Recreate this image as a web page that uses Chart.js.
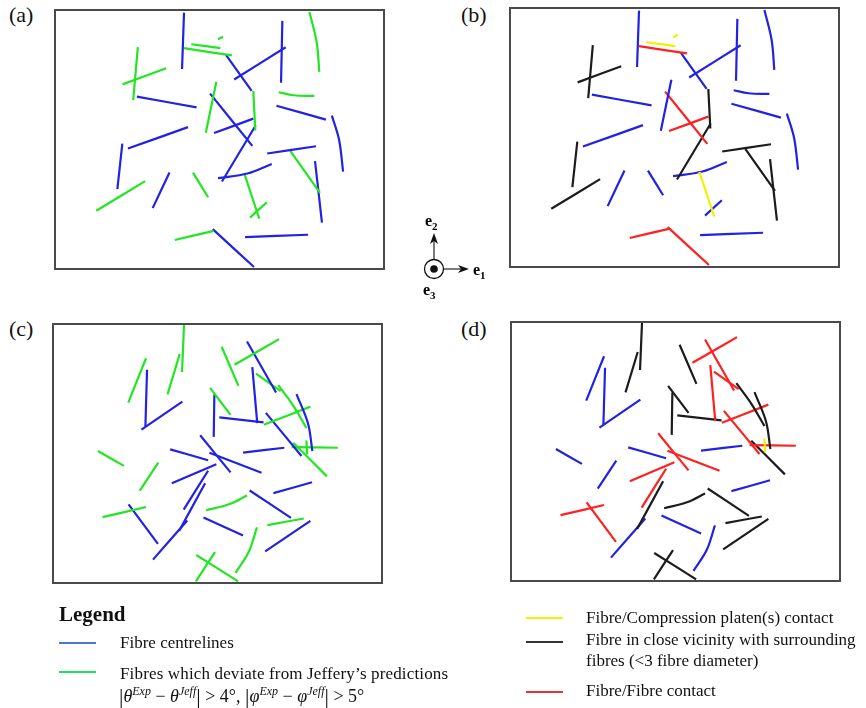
<!DOCTYPE html>
<html>
<head>
<meta charset="utf-8">
<script src="https://cdn.jsdelivr.net/npm/chart.js@4.4.1/dist/chart.umd.min.js"></script>
<style>
  body { margin: 0; background: #fff; }
  #fig { position: relative; width: 866px; height: 708px; font-family: "Liberation Serif", "Times New Roman", serif; color: #111; }
  .panel { position: absolute; width: 331px; height: 261px; border: 2px solid #4a4a4a; box-sizing: border-box; }
  .panel canvas { display: block; }
  .lbl { position: absolute; font-size: 22px; }
  .txt { position: absolute; font-size: 17px; white-space: nowrap; }
  .key { position: absolute; width: 37px; height: 0; border-top: 2.5px solid; }
  .m { font-size: 18px; top: 682px; }
  .m i { font-style: italic; }
  .m sup { font-size: 12px; font-style: italic; }
  .m .bar { font-size: 22px; position: relative; top: 1px; }
</style>
</head>
<body>
<div id="fig">
  <div class="lbl" style="left:9px;top:2px">(a)</div>
  <div class="lbl" style="left:461px;top:2px">(b)</div>
  <div class="lbl" style="left:9px;top:316px">(c)</div>
  <div class="lbl" style="left:461px;top:316px">(d)</div>

  <div class="panel" style="left:54px;top:9px"><canvas id="pa" width="327" height="257"></canvas></div>
  <div class="panel" style="left:509px;top:7px"><canvas id="pb" width="327" height="257"></canvas></div>
  <div class="panel" style="left:52px;top:323px"><canvas id="pc" width="327" height="257"></canvas></div>
  <div class="panel" style="left:510px;top:321px"><canvas id="pd" width="327" height="257"></canvas></div>

  <svg width="866" height="708" style="position:absolute;left:0;top:0;pointer-events:none" font-family="Liberation Serif, serif">
    <circle cx="434" cy="269" r="9.5" fill="#fff" stroke="#111" stroke-width="1.3"/>
    <circle cx="434" cy="269" r="3.8" fill="#111"/>
    <line x1="434" y1="259" x2="434" y2="240" stroke="#333" stroke-width="1.3"/>
    <polygon points="434,233 430,244 434,241 438,244" fill="#111"/>
    <line x1="444" y1="269" x2="462" y2="269" stroke="#333" stroke-width="1.3"/>
    <polygon points="469,269 458,265 461,269 458,273" fill="#111"/>
    <text x="425" y="226" font-size="16" font-weight="bold">e<tspan font-size="11" dy="4">2</tspan></text>
    <text x="473" y="275" font-size="16" font-weight="bold">e<tspan font-size="11" dy="4">1</tspan></text>
    <text x="423" y="295" font-size="16" font-weight="bold">e<tspan font-size="11" dy="4">3</tspan></text>
  </svg>

  <div class="txt" style="left:59px;top:602px;font-size:21px;font-weight:bold">Legend</div>
  <div class="key" style="left:59px;top:642px;border-color:#4a78d0"></div>
  <div class="txt" style="left:120px;top:633px">Fibre centrelines</div>
  <div class="key" style="left:59px;top:671px;border-color:#1ee060"></div>
  <div class="txt" style="left:120px;top:664px;letter-spacing:0.15px">Fibres which deviate from Jeffery’s predictions</div>
  <div class="txt m" style="left:119px"><span class="bar">|</span><i>θ</i><sup>Exp</sup> − <i>θ</i><sup>Jeff</sup><span class="bar">|</span> &gt; 4°, <span class="bar">|</span><i>φ</i><sup>Exp</sup> − <i>φ</i><sup>Jeff</sup><span class="bar">|</span> &gt; 5°</div>

  <div class="key" style="left:526px;top:617px;border-color:#f5f000"></div>
  <div class="txt" style="left:586px;top:608px">Fibre/Compression platen(s) contact</div>
  <div class="key" style="left:526px;top:641px;border-color:#333"></div>
  <div class="txt" style="left:586px;top:630px">Fibre in close vicinity with surrounding</div>
  <div class="txt" style="left:586px;top:651px">fibres (&lt;3 fibre diameter)</div>
  <div class="key" style="left:526px;top:691px;border-color:#f03030"></div>
  <div class="txt" style="left:586px;top:681px">Fibre/Fibre contact</div>
</div>

<script>
// fibre centrelines, box-relative (x right, y down), frame 0..991 x 0..781
const fibresTop = [
  [[388,5],[382,176]],
  [[410,101],[498,113]],
  [[491,86],[506,78]],
  [[388,113],[533,135]],
  [[515,133],[593,243]],
  [[540,208],[696,110]],
  [[686,30],[682,218]],
  [[768,3],[790,95],[798,185]],
  [[248,110],[234,271]],
  [[202,223],[334,174]],
  [[245,260],[426,293]],
  [[486,215],[454,370]],
  [[467,251],[595,410]],
  [[598,243],[604,363]],
  [[479,371],[598,327]],
  [[605,348],[503,518]],
  [[675,247],[720,256],[783,258]],
  [[668,288],[818,330]],
  [[836,318],[858,392],[870,488]],
  [[218,418],[400,353]],
  [[201,403],[186,541]],
  [[122,607],[270,517]],
  [[344,491],[293,599]],
  [[415,491],[461,566]],
  [[491,508],[580,494],[654,465]],
  [[640,433],[788,411]],
  [[710,425],[800,553]],
  [[785,456],[806,643]],
  [[571,495],[616,631]],
  [[588,628],[639,581]],
  [[360,696],[478,668]],
  [[475,663],[600,778]],
  [[573,687],[764,680]]
];

const fibresBottom = [
  [[394,0],[388,143]],
  [[381,88],[344,211]],
  [[279,101],[225,236]],
  [[282,136],[277,308]],
  [[265,318],[389,233]],
  [[508,66],[559,185]],
  [[547,121],[682,43]],
  [[585,50],[673,205]],
  [[601,128],[616,298]],
  [[612,148],[687,201]],
  [[680,183],[725,245],[765,313]],
  [[735,210],[770,300],[783,383]],
  [[473,191],[535,273]],
  [[486,211],[484,340]],
  [[501,281],[635,296]],
  [[636,303],[777,248]],
  [[642,267],[750,398]],
  [[720,371],[860,373]],
  [[765,351],[767,393]],
  [[725,358],[827,460]],
  [[573,388],[698,373]],
  [[133,383],[212,428]],
  [[352,378],[467,411]],
  [[443,335],[535,448]],
  [[471,388],[629,449]],
  [[357,481],[492,423]],
  [[316,418],[260,503]],
  [[467,443],[393,561]],
  [[458,481],[379,626]],
  [[404,594],[300,713]],
  [[593,503],[718,586]],
  [[461,563],[530,545],[585,518]],
  [[665,511],[782,478]],
  [[147,584],[279,553]],
  [[226,545],[315,665]],
  [[453,585],[573,640]],
  [[647,608],[757,588]],
  [[640,688],[777,595]],
  [[615,615],[590,690],[550,753]],
  [[431,699],[558,779]],
  [[488,690],[430,779]]
];

// c = centreline, j = deviates from Jeffery, p = platen contact, v = close vicinity, f = fibre/fibre contact
const kindA = ['c','j','j','j','c','c','c','j','j','j','c','j','c','j','c','c','j','c','c','c','c','j','c','j','c','c','j','c','j','j','j','c','c'];
const kindB = ['c','p','p','f','c','c','c','c','v','v','c','c','f','v','f','v','c','c','c','c','v','v','c','c','c','v','v','v','p','c','f','f','c'];
const kindC = ['j','j','j','c','c','j','j','c','c','j','j','c','j','c','c','j','c','j','j','j','c','j','c','c','c','c','j','c','c','c','c','j','c','j','c','c','j','c','j','j','j'];
const kindD = ['v','v','c','c','c','v','f','f','f','f','v','v','v','v','v','f','f','f','p','v','c','c','c','f','f','f','c','f','v','c','v','v','c','f','f','c','v','v','c','v','v'];

const colours = { c: '#2222e2', j: '#22e622', p: '#f2f000', v: '#1c1c1c', f: '#ff2020' };

function drawPanel(id, fibres, kinds) {
  const datasets = fibres.map((f, i) => ({
    data: f.map(p => ({ x: p[0], y: p[1] })),
    borderColor: colours[kinds[i]],
    borderWidth: 2.2,
    pointRadius: 0,
    showLine: true,
    tension: 0.35,
    clip: false,
    order: kinds[i] === 'p' ? 0 : 1
  }));
  new Chart(document.getElementById(id), {
    type: 'scatter',
    data: { datasets: datasets },
    options: {
      responsive: false,
      animation: false,
      layout: { padding: 0 },
      plugins: { legend: { display: false }, tooltip: { enabled: false } },
      scales: {
        x: { type: 'linear', min: 0, max: 991, display: false },
        y: { type: 'linear', min: 0, max: 781, reverse: true, display: false }
      }
    }
  });
}

drawPanel('pa', fibresTop, kindA);
drawPanel('pb', fibresTop, kindB);
drawPanel('pc', fibresBottom, kindC);
drawPanel('pd', fibresBottom, kindD);
</script>
</body>
</html>
